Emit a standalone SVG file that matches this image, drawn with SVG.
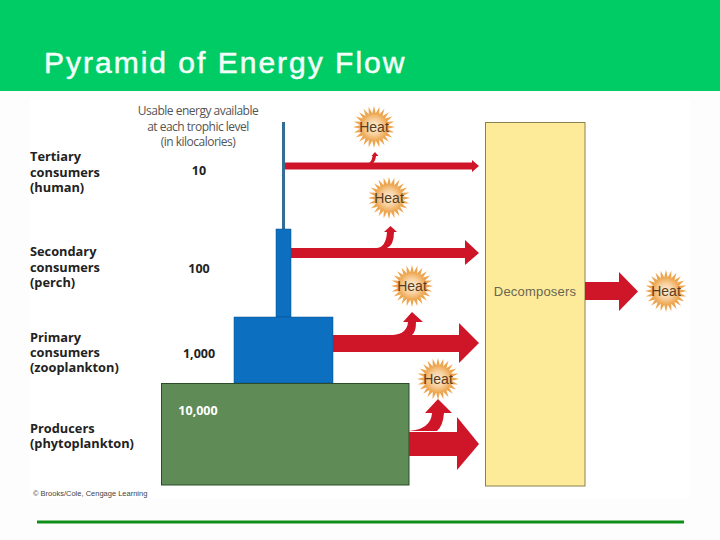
<svg xmlns="http://www.w3.org/2000/svg" xmlns:xlink="http://www.w3.org/1999/xlink" width="720" height="540" viewBox="0 0 720 540">
<style>
.lb{font-family:"Open Sans","Noto Sans",sans-serif;font-weight:700;font-size:12.8px;fill:#222}
.num{font-family:"Open Sans","Noto Sans",sans-serif;font-weight:700;font-size:12.5px;fill:#222;text-anchor:middle}
.hd{font-family:"Open Sans","Noto Sans",sans-serif;font-size:12px;fill:#555;text-anchor:middle;letter-spacing:-.5px}
.ht{font-family:"Liberation Sans",Arial,sans-serif;font-size:14px;fill:#5a3d20;text-anchor:middle}
.red{fill:#cf1528}
</style>
<defs>
<radialGradient id="sg"><stop offset="0" stop-color="#fdf0de"/><stop offset=".55" stop-color="#f8cf9c"/><stop offset="1" stop-color="#eda650"/></radialGradient>
<path id="ray" d="M-2.200,-12 L0,-21 L2.200,-12 L2.200,12 L0,21 L-2.200,12Z" fill="#eda650"/>
<g id="sun">
<use xlink:href="#ray"/><use xlink:href="#ray" transform="rotate(15)"/><use xlink:href="#ray" transform="rotate(30)"/><use xlink:href="#ray" transform="rotate(45)"/><use xlink:href="#ray" transform="rotate(60)"/><use xlink:href="#ray" transform="rotate(75)"/><use xlink:href="#ray" transform="rotate(90)"/><use xlink:href="#ray" transform="rotate(105)"/><use xlink:href="#ray" transform="rotate(120)"/><use xlink:href="#ray" transform="rotate(135)"/><use xlink:href="#ray" transform="rotate(150)"/><use xlink:href="#ray" transform="rotate(165)"/>
<circle r="14" fill="url(#sg)"/>
</g>
</defs>
<rect width="720" height="540" fill="#fdfdfd"/>
<rect width="720" height="91" fill="#00cc66"/>
<text x="44" y="73" font-family="'Liberation Sans',Arial,sans-serif" font-size="30" letter-spacing="2" fill="#f4fff9" stroke="#f4fff9" stroke-width=".5">Pyramid of Energy Flow</text>
<rect x="30" y="100" width="660" height="398" fill="#fff"/>
<rect x="37" y="520.500" width="647" height="3" fill="#0f8f1a"/>

<g id="pyramid">
<rect x="282" y="122" width="3" height="107" fill="#336e96"/>
<rect x="276" y="229" width="15" height="88" fill="#0d6fc0" stroke="#0b4f85" stroke-width=".5"/>
<rect x="234" y="317" width="99" height="66" fill="#0d6fc0" stroke="#0b4f85" stroke-width=".5"/>
<rect x="161.500" y="383.500" width="247.500" height="101.500" fill="#5e8b56" stroke="#2d4a2a"/>
<text x="198" y="415" class="num" style="fill:#fff">10,000</text>
</g>
<g id="decomposers">
<rect x="485.500" y="122.500" width="99.500" height="363.500" fill="#fdeb9a" stroke="#8a8050"/>
<text x="535" y="296" font-family="'Liberation Sans',Arial,sans-serif" font-size="13" letter-spacing=".2" fill="#6a6650" text-anchor="middle">Decomposers</text>
</g>
<g id="connectors">
<path class="red" d="M285,162.500 H472 V160 L479,166 L472,172 V169.500 H285Z"/>
<path class="red" d="M369,163 Q372,161 372.500,156 H371.500 L375,152 L378.500,156 H376 Q375.500,161 373,163Z"/>
<path class="red" d="M291,248 H465 V240 L479,253 L465,265 V258 H291Z"/>
<path class="red" d="M377,248 Q386,247 387,232 H384 L390.500,226 L397,232 H394 Q394,245 387,248Z"/>
<path class="red" d="M333,335 H459 V323 L479,343 L459,363 V352 H333Z"/>
<path class="red" d="M393,335 Q407,334 408,322 H403 L412,312 L423,322 H416 Q416,332 412,335Z"/>
<path class="red" d="M409,432 H457 V417 L479,444 L457,470 V456 H409Z"/>
<path class="red" d="M409,431 Q431,429 432,413 H425 L438,399 L452,413 H444 Q443,426 437,431Z"/>
<path class="red" d="M585,282 H619 V272 L638,291.500 L619,311 V300 H585Z"/>
</g>
<g id="suns">
<g id="heat1"><use xlink:href="#sun" x="374" y="127"/><text x="374" y="132" class="ht">Heat</text></g>
<g id="heat2"><use xlink:href="#sun" x="389" y="198"/><text x="389" y="203" class="ht">Heat</text></g>
<g id="heat3"><use xlink:href="#sun" x="412" y="286"/><text x="412" y="291" class="ht">Heat</text></g>
<g id="heat4"><use xlink:href="#sun" x="438" y="379"/><text x="438" y="384" class="ht">Heat</text></g>
<g id="heat5"><use xlink:href="#sun" x="666" y="291"/><text x="666" y="296" class="ht">Heat</text></g>
</g>
<g id="labels">
<text x="198" y="115" class="hd">Usable energy available</text>
<text x="198" y="131" class="hd">at each trophic level</text>
<text x="198" y="146" class="hd">(in kilocalories)</text>
<text x="30" y="161" class="lb">Tertiary</text><text x="30" y="177" class="lb">consumers</text><text x="30" y="192" class="lb">(human)</text>
<text x="199" y="175" class="num">10</text>
<text x="30" y="256" class="lb">Secondary</text><text x="30" y="272" class="lb">consumers</text><text x="30" y="287" class="lb">(perch)</text>
<text x="199" y="273" class="num">100</text>
<text x="30" y="342" class="lb">Primary</text><text x="30" y="357" class="lb">consumers</text><text x="30" y="372" class="lb">(zooplankton)</text>
<text x="199" y="358" class="num">1,000</text>
<text x="30" y="433" class="lb">Producers</text><text x="30" y="448" class="lb">(phytoplankton)</text>
<text x="33" y="496" font-family="'Liberation Sans',Arial,sans-serif" font-size="7.500" fill="#444">© Brooks/Cole, Cengage Learning</text>
</g>
</svg>
